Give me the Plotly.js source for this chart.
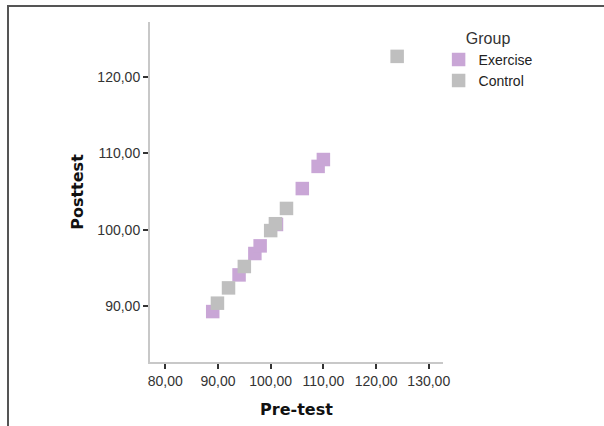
<!DOCTYPE html>
<html>
<head>
<meta charset="utf-8">
<script src="https://cdn.plot.ly/plotly-3.0.1.min.js"></script>
<style>
  html, body { margin: 0; padding: 0; background: #fff; }
  #wrap { position: relative; width: 604px; height: 426px; overflow: hidden; }
  #chart { position: absolute; left: 0; top: 0; width: 604px; height: 426px; }
  #frame { position: absolute; left: 7px; top: 5px; width: 620px; height: 440px;
           border-top: 2px solid #555; border-left: 2px solid #555; pointer-events: none; }
</style>
</head>
<body>
<div id="wrap">
  <div id="chart"></div>
  <div id="frame"></div>
</div>
<script>
// Exercise group (pre-test, posttest)
const exercisePre  = [89, 94, 97, 98, 101.1, 106, 109, 110];
const exercisePost = [89.3, 94.1, 96.9, 97.9, 100.7, 105.4, 108.3, 109.2];
// Control group (pre-test, posttest)
const controlPre  = [89.9, 92, 95, 100, 100.9, 103, 124];
const controlPost = [90.4, 92.4, 95.2, 99.9, 100.8, 102.8, 122.7];

const xTickVals = [80, 90, 100, 110, 120, 130];
const xTickText = ["80,00", "90,00", "100,00", "110,00", "120,00", "130,00"];
const yTickVals = [90, 100, 110, 120];
const yTickText = ["90,00", "100,00", "110,00", "120,00"];

const groupNames = ["Exercise", "Control"];
const colors = ["#c9a6d6", "#bfbfbf"];

const traces = [
  { x: exercisePre, y: exercisePost, name: groupNames[0], type: "scatter", mode: "markers",
    marker: { symbol: "square", size: 13.5, color: colors[0], line: { width: 0 } } },
  { x: controlPre, y: controlPost, name: groupNames[1], type: "scatter", mode: "markers",
    marker: { symbol: "square", size: 13.5, color: colors[1], line: { width: 0 } } }
];

const tickFont = { family: "Liberation Sans, Arial, sans-serif", size: 14, color: "#333" };
const titleFont = { family: "DejaVu Sans, sans-serif", size: 16, color: "#111", weight: "bold" };

const layout = {
  width: 604, height: 426,
  margin: { l: 150, r: 161, t: 22, b: 64 },
  paper_bgcolor: "#fff", plot_bgcolor: "#fff",
  showlegend: true,
  legend: {
    x: 0.985, xanchor: "left", y: 0.997, yanchor: "top",
    title: { text: "Group", side: "top center",
             font: { family: "Liberation Sans, Arial, sans-serif", size: 16, color: "#333" } },
    font: { family: "Liberation Sans, Arial, sans-serif", size: 14, color: "#222" },
    tracegroupgap: 0, itemwidth: 30, bgcolor: "rgba(0,0,0,0)"
  },
  xaxis: {
    range: [77.1, 132.7], tickmode: "array", tickvals: xTickVals, ticktext: xTickText,
    showline: true, linecolor: "#c8c8c8", linewidth: 2, mirror: false,
    ticks: "outside", ticklen: 5, tickwidth: 2, tickcolor: "#333",
    showgrid: false, zeroline: false, tickfont: tickFont, automargin: false,
    title: { text: "Pre-test", font: titleFont, standoff: 16 }
  },
  yaxis: {
    range: [82.7, 127.2], tickmode: "array", tickvals: yTickVals, ticktext: yTickText,
    showline: true, linecolor: "#c8c8c8", linewidth: 2, mirror: false,
    ticks: "outside", ticklen: 5, tickwidth: 2, tickcolor: "#333",
    showgrid: false, zeroline: false, tickfont: tickFont, automargin: false,
    title: { text: "Posttest", font: titleFont, standoff: 10 }
  }
};

Plotly.newPlot("chart", traces, layout, { displayModeBar: false, staticPlot: true });
</script>
</body>
</html>
